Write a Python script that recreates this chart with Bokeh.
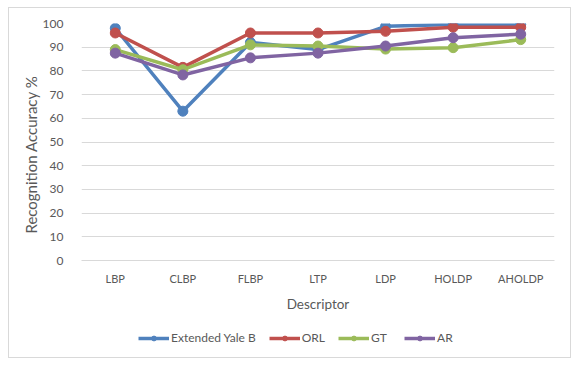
from bokeh.plotting import figure
from bokeh.models import (FactorRange, Range1d, FixedTicker, Legend, LegendItem,
                          ColumnDataSource, Spacer, Title)
from bokeh.layouts import column, row
from bokeh.embed import file_html
from bokeh.resources import INLINE

descriptors = ["LBP", "CLBP", "FLBP", "LTP", "LDP", "HOLDP", "AHOLDP"]
yale_b = [98.0, 63.0, 92.0, 89.0, 98.8, 99.6, 99.6]
orl = [96.0, 81.5, 96.0, 96.0, 96.7, 98.4, 98.4]
gt = [89.0, 80.5, 91.0, 90.5, 89.2, 89.8, 93.2]
ar = [87.5, 78.3, 85.5, 87.5, 90.5, 94.0, 95.5]
series_names = ["Extended Yale B", "ORL", "GT", "AR"]
series_values = [yale_b, orl, gt, ar]
colors = ["#4f81bd", "#c0504d", "#9bbb59", "#8064a2"]
y_ticks = [0, 10, 20, 30, 40, 50, 60, 70, 80, 90, 100]
x_title = "Descriptor"
y_title = "Recognition Accuracy %"

FONT = "Lato"
TXT = "#595959"

p = figure(width=561, height=309, x_range=FactorRange(*descriptors), y_range=Range1d(0, 100),
           output_backend="svg", toolbar_location=None,
           min_border_left=72, min_border_right=16, min_border_top=15, min_border_bottom=57)
p.outline_line_color = None
p.background_fill_color = "white"
p.border_fill_color = "white"

p.xgrid.grid_line_color = None
p.ygrid.grid_line_color = "#d9d9d9"
p.ygrid.grid_line_width = 1
p.yaxis.ticker = FixedTicker(ticks=y_ticks)

for ax in (p.xaxis[0], p.yaxis[0]):
    ax.major_tick_line_color = None
    ax.minor_tick_line_color = None
    ax.major_label_text_font = FONT
    ax.major_label_text_font_size = "12px"
    ax.major_label_text_color = TXT
    ax.axis_label_text_font = FONT
    ax.axis_label_text_font_style = "normal"
    ax.axis_label_text_color = TXT
p.xaxis.major_label_text_font_size = "11px"
p.yaxis.axis_line_color = None
p.xaxis.axis_line_color = "#d9d9d9"
p.xaxis.axis_label = x_title
p.xaxis.axis_label_text_font_size = "13.5px"
p.xaxis.major_label_standoff = 5
p.xaxis.axis_label_standoff = 8
p.yaxis.major_label_standoff = 12

ytitle = Title(text=y_title, align="left", offset=27, standoff=0,
               text_font=FONT, text_font_size="15px", text_font_style="normal",
               text_color=TXT)
p.add_layout(ytitle, "left")

for name, vals, c in zip(series_names, series_values, colors):
    src = ColumnDataSource(dict(x=descriptors, y=vals))
    p.line("x", "y", source=src, line_color=c, line_width=3.5)
    p.scatter("x", "y", source=src, size=10, fill_color=c, line_color=c)

# legend strip below the chart (its frame is aligned with the chart's frame)
q = figure(width=561, height=40, output_backend="svg", toolbar_location=None,
           x_range=Range1d(0, 1), y_range=Range1d(0, 1),
           x_axis_location=None, y_axis_location=None,
           min_border_left=0, min_border_right=0, min_border_top=0, min_border_bottom=0)
q.outline_line_color = None
q.grid.visible = False
q.border_fill_color = "white"
items = []
for name, c in zip(series_names, colors):
    blank = ColumnDataSource(dict(x=[float("nan")], y=[float("nan")]))
    r1 = q.line("x", "y", source=blank, line_color=c, line_width=3.5)
    r2 = q.scatter("x", "y", source=blank, size=9, fill_color=c, line_color=c)
    items.append(LegendItem(label=name, renderers=[r1, r2]))
legend = Legend(items=items, orientation="horizontal", location=(57, 12),
                label_text_font=FONT, label_text_font_size="12px", label_text_color=TXT,
                glyph_width=31, glyph_height=12, label_standoff=2, spacing=13,
                border_line_color=None, background_fill_alpha=0, padding=0, margin=0)
q.add_layout(legend, "center")

box = column(p, q, spacing=0)
box.styles = {"border": "1px solid #d9d9d9"}
page = column(Spacer(height=7), row(Spacer(width=8), box, spacing=0), spacing=0)

open("out.html", "w").write(file_html(page, INLINE))
